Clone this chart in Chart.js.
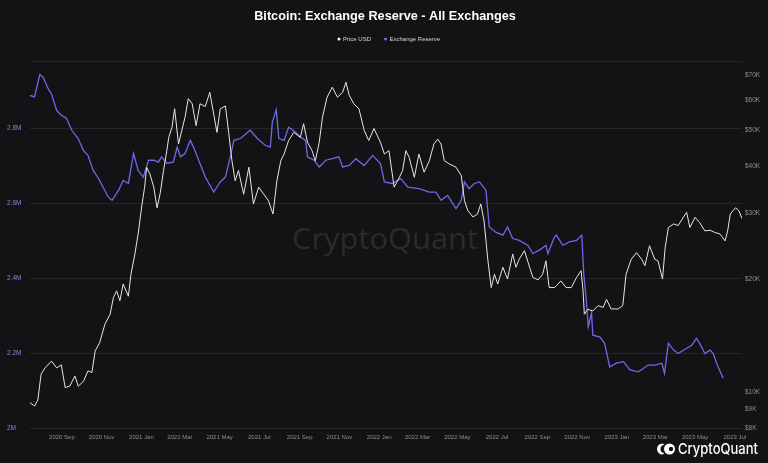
<!DOCTYPE html>
<html>
<head>
<meta charset="utf-8">
<script src="https://cdn.jsdelivr.net/npm/chart.js@4.4.1/dist/chart.umd.min.js"></script>
<style>
  html, body { margin: 0; padding: 0; background: #131316; }
  #wrap { position: relative; width: 768px; height: 463px; }
</style>
</head>
<body>
<div id="wrap"><canvas id="chart" width="768" height="463"></canvas></div>
<script>
// days counted from 2020-07-14
const START = Date.UTC(2020, 6, 14);
const DAY = 86400000;

const reserveDays = [0,7,15,20,28,33,41,48,56,64,74,82,89,97,105,113,120,126,136,143,151,159,166,174,182,190,197,202,210,220,226,231,238,246,251,259,269,282,292,300,308,313,323,338,349,361,369,372,378,382,390,397,408,415,423,426,436,444,454,464,474,480,490,500,513,526,538,544,556,569,580,597,613,623,631,641,654,662,667,674,682,690,700,705,715,726,733,741,751,764,772,782,792,795,805,808,818,828,839,847,850,854,857,862,864,875,882,890,900,911,921,934,949,959,970,974,980,988,995,1008,1016,1023,1028,1036,1044,1049,1054,1064];
// exchange reserve, million BTC
const reserveMillions = [2.888,2.884,2.944,2.937,2.906,2.892,2.848,2.835,2.827,2.795,2.773,2.741,2.728,2.688,2.667,2.640,2.617,2.608,2.635,2.661,2.653,2.733,2.688,2.670,2.715,2.715,2.710,2.724,2.707,2.710,2.750,2.724,2.733,2.768,2.750,2.715,2.670,2.630,2.657,2.670,2.728,2.768,2.773,2.795,2.773,2.755,2.750,2.817,2.850,2.773,2.768,2.803,2.790,2.777,2.768,2.724,2.715,2.697,2.715,2.719,2.724,2.697,2.701,2.719,2.701,2.728,2.706,2.657,2.653,2.666,2.643,2.639,2.630,2.630,2.608,2.621,2.586,2.608,2.657,2.639,2.653,2.657,2.635,2.537,2.523,2.515,2.537,2.506,2.501,2.488,2.466,2.475,2.488,2.466,2.510,2.515,2.488,2.497,2.501,2.515,2.413,2.341,2.270,2.307,2.248,2.243,2.226,2.163,2.173,2.177,2.155,2.150,2.168,2.168,2.173,2.146,2.226,2.208,2.199,2.213,2.221,2.239,2.226,2.199,2.208,2.199,2.173,2.133];

const priceDays = [0,7,12,17,23,33,41,48,54,61,69,74,82,89,95,100,107,115,123,128,133,138,143,151,155,161,166,172,176,179,184,190,195,200,205,210,213,218,222,228,233,238,243,249,255,261,269,276,282,287,292,300,305,310,315,320,328,336,343,351,359,366,373,379,385,390,397,405,415,420,426,433,438,444,449,456,464,472,480,485,490,497,505,513,520,528,538,544,551,559,567,572,577,582,590,597,605,613,620,626,631,636,644,654,662,667,672,680,687,692,697,700,703,708,713,718,726,733,741,746,751,759,767,772,780,787,792,797,805,808,815,823,831,839,846,849,851,856,864,872,880,885,892,903,910,915,923,931,939,944,951,959,964,971,975,980,988,995,1003,1008,1013,1021,1028,1036,1044,1051,1059,1067,1071,1075,1083,1088,1093];
// price, USD
const priceValues = [9350,9160,9500,11130,11580,12070,11580,11800,10260,10350,11020,10350,10650,11370,11250,12850,13530,15150,16110,17850,18600,17500,19400,18000,20600,23330,26390,31750,35200,39800,38200,35200,31000,34000,39000,44070,47800,50900,57050,45900,49900,54100,60700,58800,51400,58800,57800,63100,55200,49300,57000,58000,49300,41400,36600,39000,33700,39800,31750,35200,33700,32400,29850,36600,41400,43150,46900,49300,47800,52000,46400,44070,41400,46400,54100,61200,65100,61200,63100,67100,62000,58800,57000,49900,46900,50500,46400,43150,44070,35200,37400,39000,44070,42300,37400,43150,38600,41400,45900,47300,45900,41400,40600,39800,37800,32400,30500,29300,29850,31750,28600,25300,22380,18980,20600,19400,21500,20000,23330,21500,22600,23820,21500,20200,19900,20600,22380,18980,18980,19180,19780,18980,18980,20200,21050,18600,16110,16600,16440,16980,16800,17660,16640,16640,17000,20600,22600,23530,22600,21730,24550,22600,22380,20000,24250,27470,28080,27800,29250,30150,27470,29250,28300,26900,27000,26650,26400,25300,26900,29850,31000,30500,29000];

const reserveTicks = [2.0, 2.2, 2.4, 2.6, 2.8];
const priceTicks = [8000, 9000, 10000, 20000, 30000, 40000, 50000, 60000, 70000];
const monthTicks = ['2020-09','2020-11','2021-01','2021-03','2021-05','2021-07','2021-09','2021-11','2022-01','2022-03','2022-05','2022-07','2022-09','2022-11','2023-01','2023-03','2023-05','2023-07'];
const monthNames = ['Jan','Feb','Mar','Apr','May','Jun','Jul','Aug','Sep','Oct','Nov','Dec'];

const BG = '#131316';
const PURPLE = '#6d69e8';
const WHITE = '#e6e6e6';

function dayOf(ym) {
  const [y, m] = ym.split('-').map(Number);
  return Math.round((Date.UTC(y, m - 1, 1) - START) / DAY);
}
function labelOfDay(d) {
  const dt = new Date(START + d * DAY);
  return dt.getUTCFullYear() + ' ' + monthNames[dt.getUTCMonth()];
}

const chrome = {
  id: 'chrome',
  beforeDraw(chart) {
    const ctx = chart.ctx;
    ctx.save();
    ctx.fillStyle = BG;
    ctx.fillRect(0, 0, chart.width, chart.height);
    // watermark
    ctx.font = '400 30px "Open Sans", sans-serif';
    const t = 'CryptoQuant';
    const w = ctx.measureText(t).width;
    ctx.translate(292, 249);
    ctx.scale(186 / w, 1);
    ctx.fillStyle = 'rgba(255,255,255,0.10)';
    ctx.textBaseline = 'alphabetic';
    ctx.fillText(t, 0, 0);
    ctx.restore();
  },
  afterDraw(chart) {
    const ctx = chart.ctx;
    ctx.save();
    // title
    ctx.fillStyle = '#ffffff';
    ctx.font = 'bold 12.7px "Liberation Sans", Arial, sans-serif';
    ctx.textAlign = 'center';
    ctx.textBaseline = 'middle';
    ctx.fillText('Bitcoin: Exchange Reserve - All Exchanges', 385, 16);
    // legend
    ctx.font = '6px "Liberation Sans", Arial, sans-serif';
    ctx.textAlign = 'left';
    ctx.fillStyle = '#ffffff';
    ctx.beginPath(); ctx.arc(339, 39, 1.5, 0, Math.PI * 2); ctx.fill();
    ctx.fillStyle = '#d8d8d8';
    ctx.fillText('Price USD', 343, 39);
    ctx.fillStyle = PURPLE;
    ctx.beginPath(); ctx.arc(385.5, 39, 1.5, 0, Math.PI * 2); ctx.fill();
    ctx.fillStyle = '#d8d8d8';
    ctx.fillText('Exchange Reserve', 389.5, 39);
    // logo
    ctx.fillStyle = '#ffffff';
    ctx.beginPath();
    ctx.arc(662.5, 449, 5.5, Math.PI * 0.5, Math.PI * 1.5);
    ctx.arc(664.5, 449, 4, Math.PI * 1.5, Math.PI * 0.5, true);
    ctx.closePath();
    ctx.fill();
    ctx.beginPath();
    ctx.arc(669.5, 449, 5.5, 0, Math.PI * 2);
    ctx.fill();
    ctx.fillStyle = BG;
    ctx.beginPath();
    ctx.arc(671, 449, 2.2, 0, Math.PI * 2);
    ctx.fill();
    ctx.fillStyle = '#ffffff';
    ctx.font = '500 15px Inter, "Open Sans", sans-serif';
    const t = 'CryptoQuant';
    const w = ctx.measureText(t).width;
    ctx.translate(678, 454);
    ctx.scale(80 / w, 1);
    ctx.textBaseline = 'alphabetic';
    ctx.fillText(t, 0, 0);
    ctx.restore();
  }
};

new Chart(document.getElementById('chart'), {
  type: 'line',
  data: {
    datasets: [
      {
        label: 'Price USD',
        data: priceDays.map((d, i) => ({ x: d, y: priceValues[i] })),
        yAxisID: 'yPrice',
        borderColor: WHITE,
        borderWidth: 1,
        pointRadius: 0,
        tension: 0
      },
      {
        label: 'Exchange Reserve',
        data: reserveDays.map((d, i) => ({ x: d, y: reserveMillions[i] })),
        yAxisID: 'yReserve',
        borderColor: PURPLE,
        borderWidth: 1.3,
        pointRadius: 0,
        tension: 0
      }
    ]
  },
  options: {
    responsive: false,
    animation: false,
    devicePixelRatio: 1,
    events: [],
    layout: { padding: { top: 61, left: 7, right: 0, bottom: 0 } },
    plugins: {
      legend: { display: false },
      title: { display: false },
      tooltip: { enabled: false }
    },
    scales: {
      x: {
        type: 'linear',
        min: 0,
        max: 1093,
        afterBuildTicks: s => { s.ticks = monthTicks.map(m => ({ value: dayOf(m) })); },
        afterFit: s => { s.height = 35; },
        grid: { display: false, drawTicks: false },
        border: { display: false },
        ticks: {
          autoSkip: false,
          maxRotation: 0,
          padding: 6,
          color: '#8e8e93',
          font: { size: 6, family: '"Liberation Sans", Arial, sans-serif' },
          callback: v => labelOfDay(v)
        }
      },
      yReserve: {
        type: 'linear',
        position: 'left',
        min: 2.0,
        max: 2.98,
        afterBuildTicks: s => {
          s.ticks = reserveTicks.map(v => ({ value: v })).concat([{ value: 2.98 }]);
        },
        afterFit: s => { s.width = 23; },
        grid: { color: '#25252a', lineWidth: 1, drawTicks: false },
        border: { display: false },
        ticks: {
          crossAlign: 'far',
          padding: 0,
          color: '#8585dc',
          font: { size: 6.5, family: '"Liberation Sans", Arial, sans-serif' },
          callback: v => v > 2.9 ? '' : (v === 2 ? '2M' : v.toFixed(1) + 'M')
        }
      },
      yPrice: {
        type: 'logarithmic',
        position: 'right',
        min: 8000,
        max: 76500,
        afterBuildTicks: s => { s.ticks = priceTicks.map(v => ({ value: v })); },
        afterFit: s => { s.width = 26; },
        grid: { display: false, drawTicks: false },
        border: { display: false },
        ticks: {
          padding: 3,
          color: '#8e8e93',
          font: { size: 6.5, family: '"Liberation Sans", Arial, sans-serif' },
          callback: v => '$' + (v / 1000) + 'K'
        }
      }
    }
  },
  plugins: [chrome]
});
</script>
</body>
</html>
